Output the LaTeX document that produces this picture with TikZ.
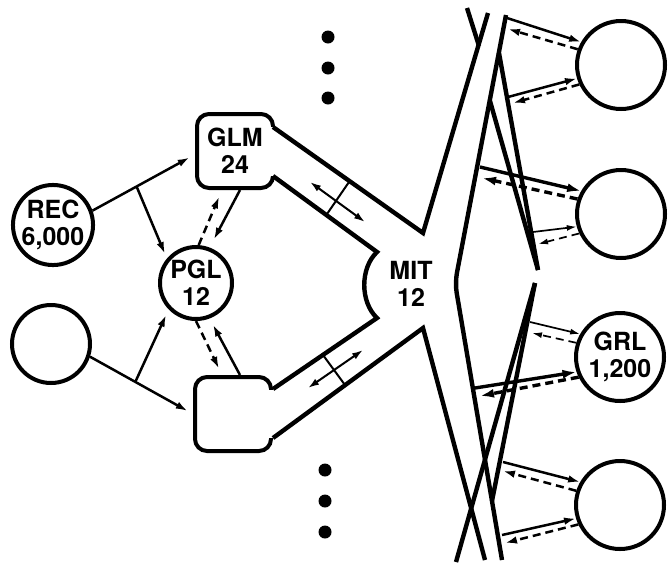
\documentclass[tikz,border=0pt]{standalone}
\usepackage{fontspec}
\setmainfont{TeX Gyre Heros}
\usetikzlibrary{arrows.meta,calc}
\newcommand{\lblfont}{\fontsize{25}{27}\selectfont\bfseries}

\begin{document}
\begin{tikzpicture}[x=1pt, y=-1pt,
    site/.style={circle, draw, line width=4pt, inner sep=0pt, align=center, font=\lblfont},
    hub/.style={draw, line width=4pt, rounded corners=12pt, minimum width=76pt, minimum height=74pt,
                inner sep=0pt, align=center, font=\lblfont},
    pipe/.style={line width=4.4pt},
    thk/.style={-{Latex[length=14pt,width=9pt]}, line width=3.4pt},
    med/.style={-{Latex[length=12pt,width=7.5pt]}, line width=2.5pt},
    thn/.style={-{Latex[length=10pt,width=6pt]}, line width=1.7pt},
    dbl/.style={{Latex[length=11pt,width=7pt]}-{Latex[length=11pt,width=7pt]}, line width=2pt},
    back/.style={dash pattern=on 8pt off 5pt}]
    \useasboundingbox (0,0) rectangle (671,563);
    % left side
    \node[site, minimum size=76pt] (rec) at (53,225) {REC\\6,000};
    \node[site, minimum size=78pt] (src) at (51,344) {};
    \node[site, minimum size=72pt] (pgl) at (196,283) {PGL\\12};
    \node[hub] (glm) at (235,151) {GLM\\24};
    \node[hub] (lgm) at (233,414) {};
    \node[font=\lblfont, align=center] (mit) at (411,284) {MIT\\12};
    % right side
    \node[site, minimum size=88pt] (s1) at (621,65) {};
    \node[site, minimum size=88pt] (s2) at (621,214) {};
    \node[site, minimum size=88pt] (grl) at (620,357) {GRL\\1,200};
    \node[site, minimum size=88pt] (s4) at (620,505) {};
    % openings of the boxes
    \fill[white] (269,127) rectangle (278,176);
    \fill[white] (269,390) rectangle (278,438);
    % channels
    \draw[pipe] (273,127) -- (423,233) -- (488,13);
    \draw[pipe] (273,176) -- (377,252) .. controls (360,268) and (360,302) .. (377,318) -- (273,389);
    \draw[pipe] (273,438) -- (423,328) -- (485,560);
    \draw[pipe] (467,8) -- (479,46);
    \draw[pipe, rounded corners=10pt] (506,15) -- (455,283) -- (502,560);
    \draw[pipe] (499,53) -- (538,270);
    \draw[pipe] (490,101) -- (538,270);
    \draw[pipe] (535,283) -- (456,562);
    \draw[pipe] (535,283) -- (492,501);
    % crossings in the channels
    \draw[line width=2pt] (349,182) -- (327,214);
    \draw[dbl] (310,182) -- (365,222);
    \draw[line width=2pt] (323,355) -- (345,385);
    \draw[dbl] (308,388) -- (363,350);
    % dots
    \fill (328,37) circle[radius=6.5pt];
    \fill (328,68) circle[radius=6.5pt];
    \fill (328,98) circle[radius=6.5pt];
    \fill (325,470) circle[radius=6.5pt];
    \fill (325,501) circle[radius=6.5pt];
    \fill (325,532) circle[radius=6.5pt];
    % left arrows
    \draw[med, shorten >=6pt] (rec.20) -- (glm.185);
    \draw[med, shorten >=5pt] ($(rec.20)!0.43!(glm.185)$) -- (pgl.140);
    \draw[med, shorten >=6pt] (src.342) -- (lgm.west);
    \draw[med, shorten >=6pt] ($(src.342)!0.44!(lgm.west)$) -- (pgl.224);
    \draw[med, shorten >=9pt] ([xshift=5pt]glm.south) -- (pgl.69);
    \draw[med, back, shorten >=7pt] (pgl.86) -- ([xshift=-13pt]glm.south);
    \draw[med, back, shorten >=7pt] (pgl.270) -- ([xshift=-11pt]lgm.north);
    \draw[med, shorten >=7pt] ([xshift=7pt]lgm.north) -- (pgl.291);
    % right arrows
    \coordinate (a1) at (507,18);  \coordinate (b1) at (508,29);
    \coordinate (a2) at (508,97);  \coordinate (b2) at (513,103);
    \coordinate (a3) at (480,167); \coordinate (b3) at (482,178);
    \coordinate (a4) at (533,232); \coordinate (b4) at (538,244);
    \coordinate (a5) at (530,322); \coordinate (b5) at (532,333);
    \coordinate (a6) at (475,388); \coordinate (b6) at (480,396);
    \coordinate (a7) at (503,462); \coordinate (b7) at (503,471);
    \coordinate (a8) at (502,535); \coordinate (b8) at (505,543);
    \draw[med] (a1) -- (s1.150);
    \draw[med, back] (s1.160) -- (b1);
    \draw[med] (a2) -- (s1.197);
    \draw[med, back] (s1.205) -- (b2);
    \draw[thk] (a3) -- (s2.150);
    \draw[thk, back] (s2.161) -- (b3);
    \draw[thn] (a4) -- (s2.196);
    \draw[thn, back] (s2.205) -- (b4);
    \draw[thn] (a5) -- (grl.150);
    \draw[thn, back] (grl.162) -- (b5);
    \draw[thk] (a6) -- (grl.199);
    \draw[thk, back] (grl.206) -- (b6);
    \draw[med] (a7) -- (s4.150);
    \draw[med, back] (s4.162) -- (b7);
    \draw[med] (a8) -- (s4.197);
    \draw[med, back] (s4.205) -- (b8);
\end{tikzpicture}
\end{document}
